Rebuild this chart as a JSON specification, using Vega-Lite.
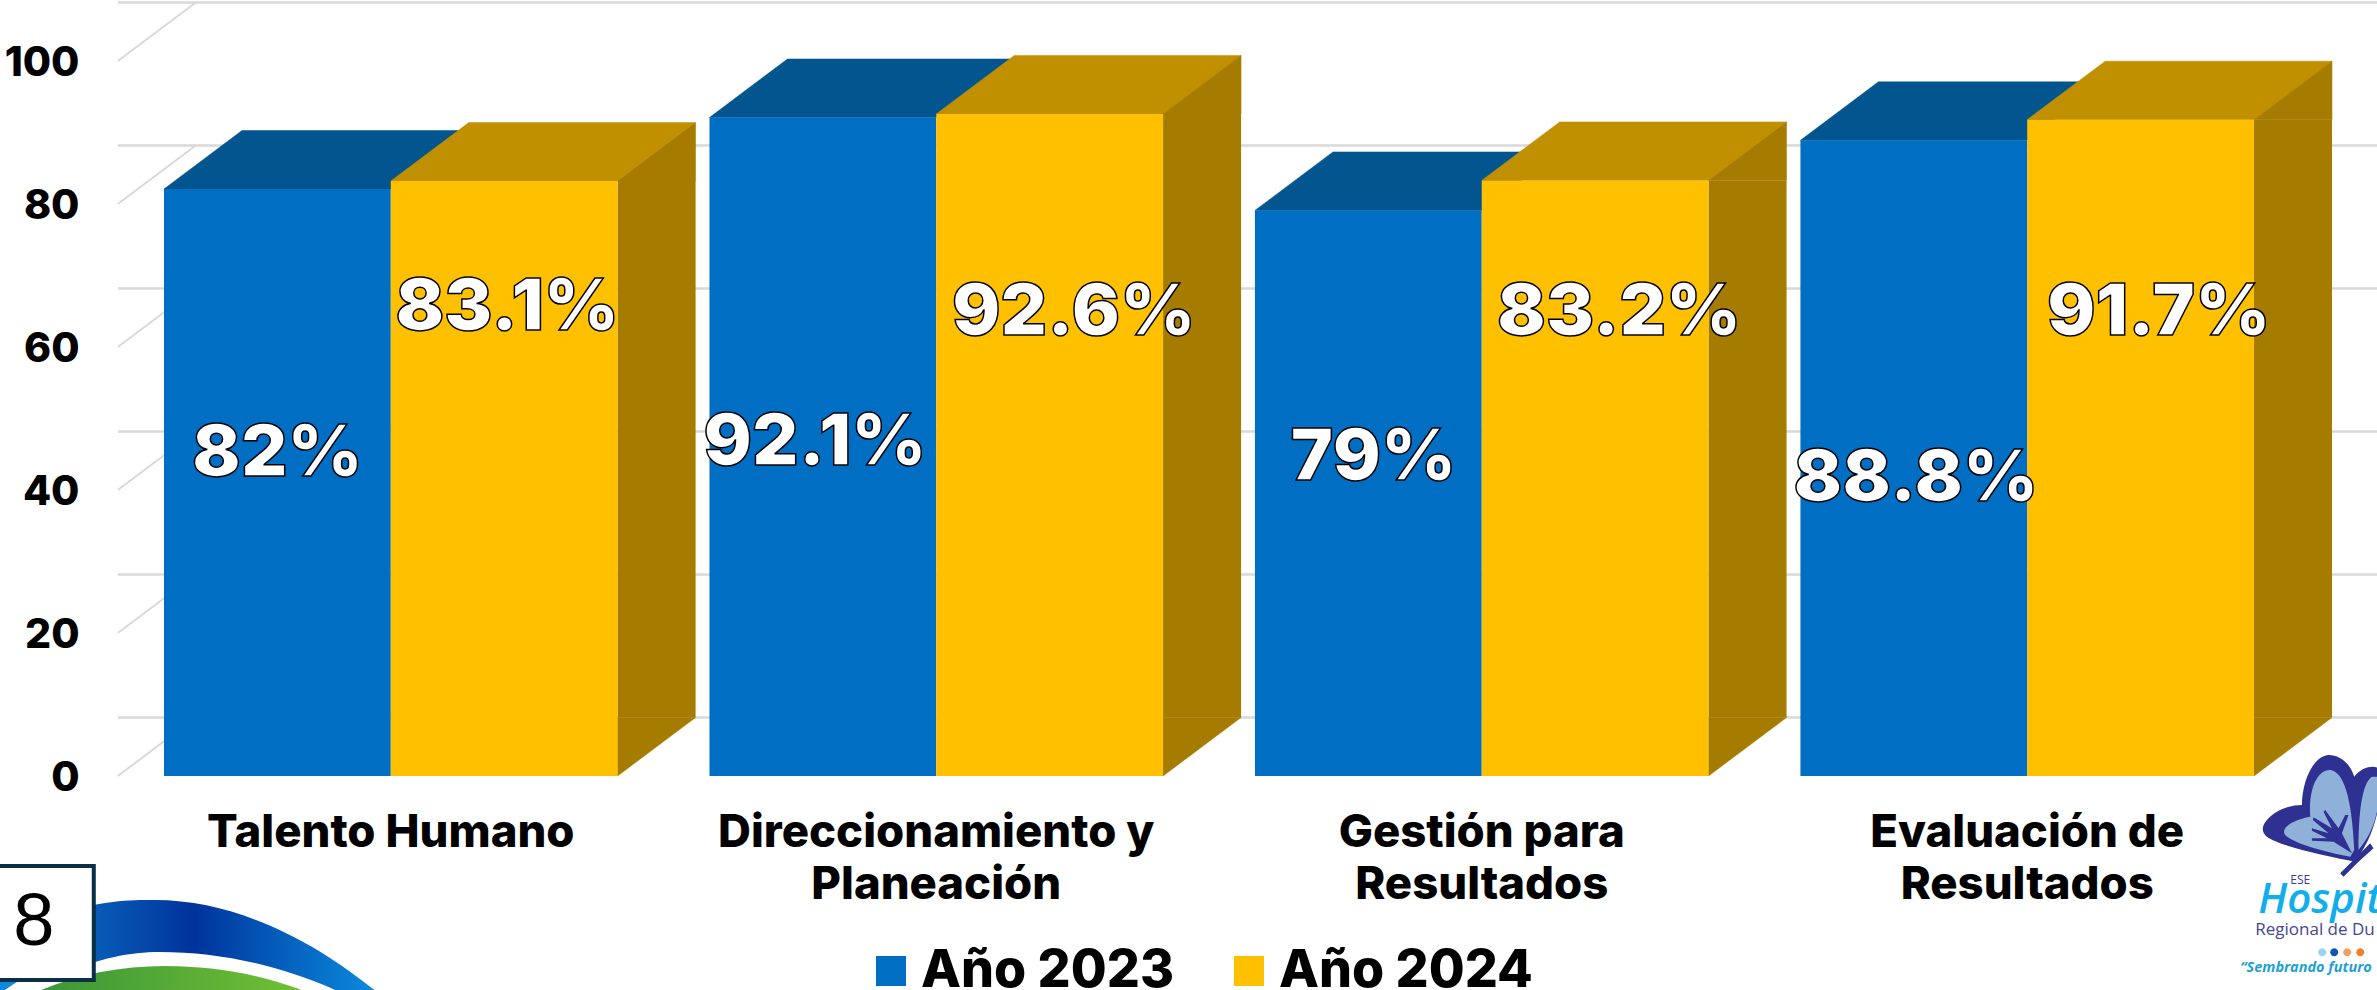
{"$schema":"https://vega.github.io/schema/vega-lite/v6.json","width":2259,"height":715,"autosize":{"type":"none"},"padding":{"left":118,"top":61,"right":0,"bottom":214},"background":"white","config":{"view":{"stroke":null},"font":"Inter","axis":{"grid":false,"domain":false,"ticks":false}},
"datasets":{"bars":[
{"category":"Talento Humano","year":"Año 2023","value":82.1,"label":"82%"},
{"category":"Talento Humano","year":"Año 2024","value":83.2,"label":"83.1%"},
{"category":"Direccionamiento y Planeación","year":"Año 2023","value":92.1,"label":"92.1%"},
{"category":"Direccionamiento y Planeación","year":"Año 2024","value":92.6,"label":"92.6%"},
{"category":"Gestión para Resultados","year":"Año 2023","value":79.1,"label":"79%"},
{"category":"Gestión para Resultados","year":"Año 2024","value":83.3,"label":"83.2%"},
{"category":"Evaluación de Resultados","year":"Año 2023","value":88.9,"label":"88.8%"},
{"category":"Evaluación de Resultados","year":"Año 2024","value":91.8,"label":"91.7%"}],
"ticks":[{"tick":0},{"tick":20},{"tick":40},{"tick":60},{"tick":80},{"tick":100}],"decor":[{"item":"decor"}]},
"layer":[
{"data":{"name":"bars"},"mark":{"type":"bar","opacity":0},"encoding":{
"x":{"field":"category","type":"nominal","sort":null,"title":null,"scale":{"type":"band","domain":["Talento Humano","Direccionamiento y Planeación","Gestión para Resultados","Evaluación de Resultados"],"range":[46,2136],"paddingInner":0.1685,"paddingOuter":0},"axis":{"labelAngle":0,"labelAlign":"center","labelBaseline":"top","labelFont":"Inter","labelFontSize":45.5,"labelFontWeight":800,"labelColor":"#000000","labelPadding":34,"labelLimit":0,"labelLineHeight":52,"labelExpr":"datum.label=='Talento Humano'?datum.label:[slice(datum.label,0,lastindexof(datum.label,' ')),slice(datum.label,lastindexof(datum.label,' ')+1)]"}},
"y":{"field":"value","type":"quantitative","title":null,"scale":{"domain":[0,100],"nice":false,"zero":true},"axis":{"values":[0,20,40,60,80,100],"labelFont":"Inter","labelFontSize":41,"labelFontWeight":800,"labelColor":"#000000","labelPadding":39,"labelOffset":2}}}},
{"data":{"name":"ticks"},"mark":{"type":"rule","color":"#D9D9D9","strokeWidth":2.5,"xOffset":79,"yOffset":-58.5},"encoding":{"y":{"field":"tick","type":"quantitative","title":null}}},
{"data":{"name":"ticks"},"mark":{"type":"point","filled":true,"size":4,"stroke":"#D9D9D9","strokeWidth":2,"fill":"#D9D9D9","opacity":1,"shape":"M-273,0L-195,-58.5"},"encoding":{"x":{"datum":"Talento Humano","type":"nominal","title":null},"y":{"field":"tick","type":"quantitative","title":null}}},
{"data":{"name":"bars"},"transform":[{"filter":"datum.year==='Año 2023'"}],"mark":{"type":"point","filled":true,"size":4,"opacity":1,"fill":"#02558F","stroke":"#02558F","strokeWidth":0.5,"shape":"M-113.4,0L113.4,0L191.4,-58.5L-35.4,-58.5Z"},"encoding":{"x":{"field":"category","type":"nominal","sort":null,"title":null},"xOffset":{"field":"year","type":"nominal","scale":{"domain":["Año 2023","Año 2024"],"paddingInner":0,"paddingOuter":0}},"y":{"field":"value","type":"quantitative","title":null}}},
{"data":{"name":"bars"},"transform":[{"filter":"datum.year==='Año 2024'"}],"mark":{"type":"point","filled":true,"size":4,"opacity":1,"fill":"#C09000","stroke":"#C09000","strokeWidth":0.5,"shape":"M-113.4,0L113.4,0L191.4,-58.5L-35.4,-58.5Z"},"encoding":{"x":{"field":"category","type":"nominal","sort":null,"title":null},"xOffset":{"field":"year","type":"nominal","scale":{"domain":["Año 2023","Año 2024"],"paddingInner":0,"paddingOuter":0}},"y":{"field":"value","type":"quantitative","title":null}}},
{"data":{"name":"bars"},"transform":[{"filter":"datum.year==='Año 2024'"}],"mark":{"type":"point","filled":true,"size":4,"opacity":1,"fill":"#A57C00","stroke":"#A57C00","strokeWidth":0.5,"shape":"M113.4,0L191.4,0L191.4,-58.5Z"},"encoding":{"x":{"field":"category","type":"nominal","sort":null,"title":null},"xOffset":{"field":"year","type":"nominal","scale":{"domain":["Año 2023","Año 2024"],"paddingInner":0,"paddingOuter":0}},"y":{"field":"value","type":"quantitative","title":null}}},
{"data":{"name":"bars"},"transform":[{"filter":"datum.year==='Año 2024'"}],"mark":{"type":"point","filled":true,"size":4,"opacity":1,"fill":"#A57C00","stroke":"#A57C00","strokeWidth":0.5,"shape":"M113.4,-58.5L191.4,-58.5L113.4,0Z"},"encoding":{"x":{"field":"category","type":"nominal","sort":null,"title":null},"xOffset":{"field":"year","type":"nominal","scale":{"domain":["Año 2023","Año 2024"],"paddingInner":0,"paddingOuter":0}},"y":{"datum":0,"type":"quantitative","title":null}}},
{"data":{"name":"bars"},"transform":[{"filter":"datum.year==='Año 2024'"}],"mark":{"type":"rule","color":"#A57C00","strokeWidth":78,"xOffset":265.8},"encoding":{"x":{"field":"category","type":"nominal","sort":null,"title":null},"y":{"field":"value","type":"quantitative","title":null},"y2":{"datum":8.18}}},
{"data":{"name":"bars"},"mark":{"type":"bar"},"encoding":{
"x":{"field":"category","type":"nominal","sort":null,"title":null},
"xOffset":{"field":"year","type":"nominal","scale":{"domain":["Año 2023","Año 2024"],"paddingInner":0,"paddingOuter":0}},
"y":{"field":"value","type":"quantitative","title":null},
"color":{"field":"year","type":"nominal","scale":{"domain":["Año 2023","Año 2024"],"range":["#006EC2","#FFC000"]},"legend":{"title":null,"orient":"none","legendX":747,"legendY":884,"direction":"horizontal","symbolType":"square","symbolSize":900,"symbolStrokeWidth":0,"labelFont":"Inter","labelFontSize":52,"labelFontWeight":800,"labelColor":"#000000","labelOffset":4,"columnPadding":48,"labelLimit":0}}}},
{"data":{"name":"bars"},"transform":[{"filter":"datum.label==='82%'"}],"mark":{"type":"text","font":"Inter","fontWeight":900,"fontSize":72,"fill":"white","stroke":"black","strokeWidth":1.5,"baseline":"middle"},"encoding":{"x":{"field":"category","type":"nominal","sort":null,"title":null},"xOffset":{"field":"year","type":"nominal","scale":{"domain":["Año 2023","Año 2024"],"paddingInner":0,"paddingOuter":0}},"y":{"datum":45,"type":"quantitative","title":null},"text":{"field":"label"}}},
{"data":{"name":"bars"},"transform":[{"filter":"datum.label==='92.1%'"}],"mark":{"type":"text","dx":-8,"font":"Inter","fontWeight":900,"fontSize":72,"fill":"white","stroke":"black","strokeWidth":1.5,"baseline":"middle"},"encoding":{"x":{"field":"category","type":"nominal","sort":null,"title":null},"xOffset":{"field":"year","type":"nominal","scale":{"domain":["Año 2023","Año 2024"],"paddingInner":0,"paddingOuter":0}},"y":{"datum":46.6,"type":"quantitative","title":null},"text":{"field":"label"}}},
{"data":{"name":"bars"},"transform":[{"filter":"datum.label==='79%'"}],"mark":{"type":"text","dx":5,"font":"Inter","fontWeight":900,"fontSize":72,"fill":"white","stroke":"black","strokeWidth":1.5,"baseline":"middle"},"encoding":{"x":{"field":"category","type":"nominal","sort":null,"title":null},"xOffset":{"field":"year","type":"nominal","scale":{"domain":["Año 2023","Año 2024"],"paddingInner":0,"paddingOuter":0}},"y":{"datum":44.5,"type":"quantitative","title":null},"text":{"field":"label"}}},
{"data":{"name":"bars"},"transform":[{"filter":"datum.label==='88.8%'"}],"mark":{"type":"text","dx":2,"font":"Inter","fontWeight":900,"fontSize":72,"fill":"white","stroke":"black","strokeWidth":1.5,"baseline":"middle"},"encoding":{"x":{"field":"category","type":"nominal","sort":null,"title":null},"xOffset":{"field":"year","type":"nominal","scale":{"domain":["Año 2023","Año 2024"],"paddingInner":0,"paddingOuter":0}},"y":{"datum":41.5,"type":"quantitative","title":null},"text":{"field":"label"}}},
{"data":{"name":"bars"},"transform":[{"filter":"datum.label==='83.1%'"}],"mark":{"type":"text","dx":3,"font":"Inter","fontWeight":900,"fontSize":72,"fill":"white","stroke":"black","strokeWidth":1.5,"baseline":"middle"},"encoding":{"x":{"field":"category","type":"nominal","sort":null,"title":null},"xOffset":{"field":"year","type":"nominal","scale":{"domain":["Año 2023","Año 2024"],"paddingInner":0,"paddingOuter":0}},"y":{"datum":65.4,"type":"quantitative","title":null},"text":{"field":"label"}}},
{"data":{"name":"bars"},"transform":[{"filter":"datum.label==='92.6%'||datum.label==='83.2%'"}],"mark":{"type":"text","dx":24,"font":"Inter","fontWeight":900,"fontSize":72,"fill":"white","stroke":"black","strokeWidth":1.5,"baseline":"middle"},"encoding":{"x":{"field":"category","type":"nominal","sort":null,"title":null},"xOffset":{"field":"year","type":"nominal","scale":{"domain":["Año 2023","Año 2024"],"paddingInner":0,"paddingOuter":0}},"y":{"datum":64.8,"type":"quantitative","title":null},"text":{"field":"label"}}},
{"data":{"name":"bars"},"transform":[{"filter":"datum.label==='91.7%'"}],"mark":{"type":"text","dx":18,"font":"Inter","fontWeight":900,"fontSize":72,"fill":"white","stroke":"black","strokeWidth":1.5,"baseline":"middle"},"encoding":{"x":{"field":"category","type":"nominal","sort":null,"title":null},"xOffset":{"field":"year","type":"nominal","scale":{"domain":["Año 2023","Año 2024"],"paddingInner":0,"paddingOuter":0}},"y":{"datum":64.7,"type":"quantitative","title":null},"text":{"field":"label"}}},
{"data":{"name":"decor"},"mark":{"type":"point","filled":true,"size":4,"opacity":1,"fill":{"gradient":"linear","x1":0,"x2":1,"y1":0,"y2":0,"stops":[{"offset":0,"color":"#0A6BC0"},{"offset":0.42,"color":"#00339C"},{"offset":1,"color":"#0A8CDC"}]},"shape":"M-331,139C-291,124,-261,124,-236,124C-151,124,-71,169,-14,216L-51,216C-111,189,-171,176,-231,176C-261,176,-291,182,-331,199Z"},"encoding":{"x":{"datum":"Talento Humano","type":"nominal","title":null},"y":{"datum":0,"type":"quantitative","title":null}}},
{"data":{"name":"decor"},"mark":{"type":"point","filled":true,"size":4,"opacity":1,"fill":{"gradient":"linear","x1":0,"x2":1,"y1":0,"y2":0,"stops":[{"offset":0,"color":"#3A9638"},{"offset":1,"color":"#72C034"}]},"shape":"M-354,216C-316,199,-271,190,-226,190C-176,190,-126,199,-84,216Z"},"encoding":{"x":{"datum":"Talento Humano","type":"nominal","title":null},"y":{"datum":0,"type":"quantitative","title":null}}},
{"data":{"name":"decor"},"mark":{"type":"point","filled":true,"size":4,"opacity":1,"fill":"#0A8ADF","shape":"M-391,206L-374,206L-386,214L-391,214Z"},"encoding":{"x":{"datum":"Talento Humano","type":"nominal","title":null},"y":{"datum":0,"type":"quantitative","title":null}}},
{"data":{"name":"decor"},"mark":{"type":"point","filled":true,"size":4,"opacity":1,"fill":"white","stroke":"#0B2F47","strokeWidth":4,"shape":"M-401,90L-297,90L-297,204L-401,204Z"},"encoding":{"x":{"datum":"Talento Humano","type":"nominal","title":null},"y":{"datum":0,"type":"quantitative","title":null}}},
{"data":{"values":[{"note":"8"}]},"mark":{"type":"text","dx":-357,"font":"Liberation Sans","fontSize":74,"fill":"#000000","baseline":"middle"},"encoding":{"x":{"datum":"Talento Humano","type":"nominal","title":null},"y":{"datum":-20.5,"type":"quantitative","title":null},"text":{"field":"note"}}},
{"data":{"name":"decor"},"mark":{"type":"point","filled":true,"size":4,"opacity":1,"fill":"#2E3192","shape":"M328,85.7C303,80.7,253,70.7,239.7,60.7C231.3,54,236.3,44,249.7,35.7C258,30.7,268,29,274.7,29C274.7,7.3,284.7,-19.3,301.3,-21C316.3,-21,324.7,-7.7,327,0.7C334.7,-9.3,346.3,-11,351.3,-7.7L351.3,30.7C346.3,57.3,338,70.7,328,85.7Z"},"encoding":{"x":{"datum":"Evaluación de Resultados","type":"nominal","title":null},"y":{"datum":0,"type":"quantitative","title":null}}},
{"data":{"name":"decor"},"mark":{"type":"point","filled":true,"size":4,"opacity":1,"fill":"#8FB0D8","shape":"M323,80.7C296.3,75.7,266.3,67.3,258,59C253,52.3,264.7,44,283,40.7C281.3,17.3,288,-6,303,-6C316.3,-4.3,324.7,20.7,327,74ZM331.3,74C331.3,37.3,334.7,7.3,344.7,0.7L351.3,0.7L351.3,27.3C348,50.7,339.7,64,331.3,74Z"},"encoding":{"x":{"datum":"Evaluación de Resultados","type":"nominal","title":null},"y":{"datum":0,"type":"quantitative","title":null}}},
{"data":{"name":"decor"},"mark":{"type":"point","filled":true,"size":4,"opacity":1,"fill":"#2E3192","shape":"M324.7,77.3L314.7,57.3L321.3,39L318,39L311.3,52.3L298,34L296.3,35.7L304.7,52.3L286.3,41.3L285.7,44L301.3,57.3L284.7,52.3L284.7,54.7L299.7,62.3L284.7,62.3L284.7,64.7L306.3,65.7ZM328,82.3L313,97.3L316.3,100.7L331.3,85.7L346.3,72.3L343,67.3Z"},"encoding":{"x":{"datum":"Evaluación de Resultados","type":"nominal","title":null},"y":{"datum":0,"type":"quantitative","title":null}}},
{"data":{"values":[{"note":"ESE"}]},"mark":{"type":"text","dx":263,"align":"left","baseline":"alphabetic","font":"Open Sans","fontSize":12,"fill":"#3B3B9B"},"encoding":{"x":{"datum":"Evaluación de Resultados","type":"nominal","title":null},"y":{"datum":-15.1,"type":"quantitative","title":null},"text":{"field":"note"}}},
{"data":{"values":[{"note":"Hospit"}]},"mark":{"type":"text","dx":231,"align":"left","baseline":"alphabetic","font":"Open Sans","fontSize":42,"fontWeight":600,"fontStyle":"italic","fill":"#12AEEA"},"encoding":{"x":{"datum":"Evaluación de Resultados","type":"nominal","title":null},"y":{"datum":-19.1,"type":"quantitative","title":null},"text":{"field":"note"}}},
{"data":{"values":[{"note":"Regional de Du"}]},"mark":{"type":"text","dx":228,"align":"left","baseline":"alphabetic","font":"Open Sans","fontSize":17,"fill":"#45458F"},"encoding":{"x":{"datum":"Evaluación de Resultados","type":"nominal","title":null},"y":{"datum":-22.3,"type":"quantitative","title":null},"text":{"field":"note"}}},
{"data":{"values":[{"note":"“Sembrando futuro"}]},"mark":{"type":"text","dx":213,"align":"left","baseline":"alphabetic","font":"Open Sans","fontSize":14.5,"fontWeight":700,"fontStyle":"italic","fill":"#1E9FD6"},"encoding":{"x":{"datum":"Evaluación de Resultados","type":"nominal","title":null},"y":{"datum":-27.4,"type":"quantitative","title":null},"text":{"field":"note"}}},
{"data":{"name":"decor"},"mark":{"type":"point","filled":true,"size":4,"opacity":1,"fill":"#9AD4F0","shape":"M291,-24A4,4,0,1,0,299,-24A4,4,0,1,0,291,-24Z"},"encoding":{"x":{"datum":"Evaluación de Resultados","type":"nominal","title":null},"y":{"datum":-28,"type":"quantitative","title":null}}},
{"data":{"name":"decor"},"mark":{"type":"point","filled":true,"size":4,"opacity":1,"fill":"#1055B8","shape":"M303,-24A4,4,0,1,0,311,-24A4,4,0,1,0,303,-24Z"},"encoding":{"x":{"datum":"Evaluación de Resultados","type":"nominal","title":null},"y":{"datum":-28,"type":"quantitative","title":null}}},
{"data":{"name":"decor"},"mark":{"type":"point","filled":true,"size":4,"opacity":1,"fill":"#F0A060","shape":"M316,-24A4,4,0,1,0,324,-24A4,4,0,1,0,316,-24Z"},"encoding":{"x":{"datum":"Evaluación de Resultados","type":"nominal","title":null},"y":{"datum":-28,"type":"quantitative","title":null}}},
{"data":{"name":"decor"},"mark":{"type":"point","filled":true,"size":4,"opacity":1,"fill":"#F0802A","shape":"M329,-24A4,4,0,1,0,337,-24A4,4,0,1,0,329,-24Z"},"encoding":{"x":{"datum":"Evaluación de Resultados","type":"nominal","title":null},"y":{"datum":-28,"type":"quantitative","title":null}}}
]}
